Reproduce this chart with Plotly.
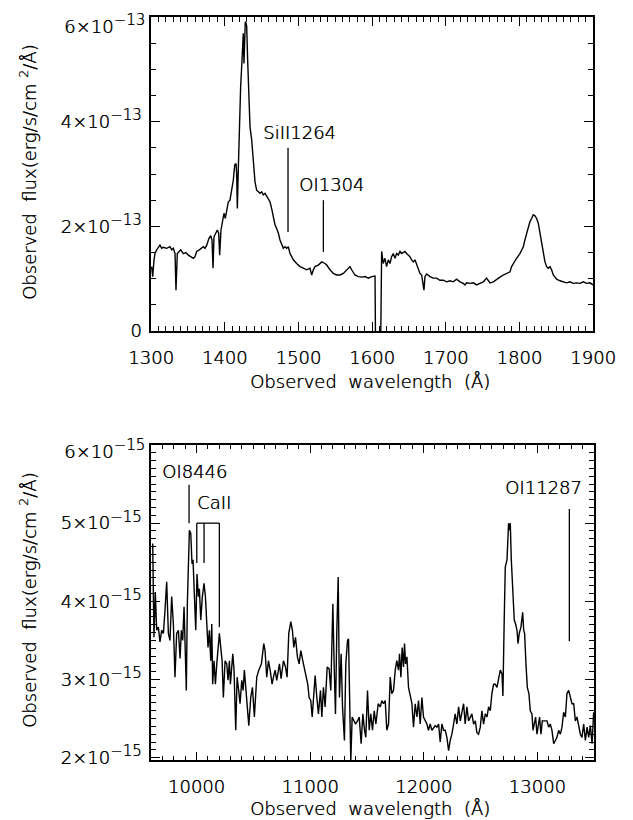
import plotly.graph_objects as go

# ---------------- data ----------------
# Top panel: UV spectrum, flux in units of 1e-13 erg/s/cm^2/A
top_wave = [
    1300.9, 1302.3, 1304.1, 1305.4, 1307.7, 1310.0, 1312.2, 1314.5, 1316.7, 1321.3,
    1325.8, 1328.1, 1330.3, 1332.6, 1333.9, 1335.7, 1338.5, 1340.3, 1343.9, 1347.5,
    1350.7, 1353.8, 1357.5, 1359.7, 1362.0, 1365.6, 1368.8, 1371.0, 1373.3, 1375.6,
    1378.7, 1381.0, 1382.8, 1384.2, 1385.5, 1388.2, 1390.0, 1391.9, 1393.2, 1395.0,
    1397.3, 1399.1, 1400.9, 1402.7, 1405.0, 1407.2, 1409.5, 1411.8, 1413.6, 1415.4,
    1416.3, 1417.2, 1418.6, 1419.9, 1421.7, 1423.1, 1424.4, 1425.3, 1426.2, 1427.1,
    1428.0, 1429.0, 1429.9, 1431.2, 1433.0, 1434.4, 1436.7, 1438.9, 1441.2, 1443.4,
    1445.7, 1448.0, 1450.2, 1452.5, 1454.8, 1457.0, 1459.3, 1461.5, 1463.8, 1466.1,
    1468.3, 1470.6, 1472.9, 1475.1, 1477.4, 1479.6, 1481.9, 1484.2, 1486.4, 1488.7,
    1491.0, 1493.2, 1497.7, 1502.3, 1506.8, 1511.3, 1515.8, 1518.1, 1520.4, 1522.6,
    1527.1, 1531.7, 1536.2, 1538.5, 1543.0, 1547.5, 1552.0, 1556.6, 1561.1, 1565.6,
    1570.1, 1572.4, 1576.9, 1581.4, 1586.0, 1590.5, 1595.0, 1599.5, 1604.1, 1605.0,
    1611.5, 1613.1, 1615.3, 1617.6, 1619.8, 1622.1, 1624.4, 1626.6, 1628.9, 1631.2,
    1633.4, 1635.7, 1638.0, 1640.2, 1642.5, 1644.7, 1647.0, 1649.3, 1651.5, 1653.8,
    1656.1, 1658.3, 1660.6, 1662.8, 1665.1, 1667.4, 1668.7, 1670.5, 1671.9, 1674.2,
    1678.7, 1683.2, 1687.7, 1692.2, 1696.8, 1701.3, 1705.8, 1710.3, 1714.9, 1719.4,
    1723.9, 1726.2, 1728.5, 1733.0, 1737.5, 1742.0, 1746.5, 1751.1, 1755.6, 1757.9,
    1760.1, 1764.7, 1769.2, 1773.7, 1778.2, 1782.7, 1787.3, 1789.5, 1791.8, 1796.3,
    1800.8, 1805.4, 1807.6, 1809.9, 1812.2, 1814.4, 1816.7, 1818.9, 1821.2, 1823.5,
    1825.7, 1828.0, 1830.3, 1832.5, 1834.8, 1837.1, 1839.3, 1841.6, 1843.8, 1846.1,
    1848.4, 1850.6, 1855.1, 1859.7, 1864.2, 1868.7, 1873.2, 1877.8, 1882.3, 1886.8,
    1891.3, 1895.9, 1900.0,
]
top_flux = [
    1.23, 1.04, 1.36, 1.48, 1.55, 1.61, 1.64, 1.58, 1.60, 1.58,
    1.61, 1.55, 1.58, 1.48, 0.78, 1.48, 1.52, 1.55, 1.48, 1.50,
    1.45, 1.42, 1.39, 1.42, 1.52, 1.55, 1.58, 1.61, 1.58, 1.64,
    1.77, 1.82, 1.74, 1.20, 1.80, 1.87, 1.93, 1.87, 1.45, 1.93,
    2.12, 2.25, 2.15, 2.31, 2.47, 2.50, 2.69, 2.89, 3.17, 3.20,
    3.01, 2.34, 3.14, 4.10, 4.67, 5.05, 5.37, 5.69, 5.11, 5.69,
    5.91, 5.88, 5.82, 5.18, 4.54, 3.90, 3.65, 3.27, 2.85, 2.69,
    2.66, 2.63, 2.66, 2.60, 2.63, 2.57, 2.50, 2.47, 2.34, 2.18,
    2.03, 1.96, 1.87, 1.74, 1.64, 1.58, 1.61, 1.58, 1.61, 1.48,
    1.42, 1.36, 1.29, 1.23, 1.20, 1.17, 1.20, 1.07, 1.17, 1.23,
    1.26, 1.32, 1.29, 1.26, 1.17, 1.10, 1.07, 1.07, 1.10, 1.17,
    1.23, 1.17, 1.07, 1.04, 1.03, 1.04, 1.01, 1.04, 1.05, -0.60,
    -0.60, 1.52, 1.29, 1.39, 1.23, 1.36, 1.29, 1.42, 1.48, 1.39,
    1.48, 1.45, 1.52, 1.48, 1.50, 1.52, 1.48, 1.45, 1.42, 1.36,
    1.32, 1.36, 1.26, 1.20, 1.10, 1.07, 0.97, 0.78, 1.04, 1.09,
    1.04, 1.01, 1.01, 0.97, 0.97, 0.94, 0.96, 0.94, 0.99, 0.94,
    0.91, 0.88, 0.92, 0.91, 0.92, 0.88, 0.91, 0.94, 1.01, 0.97,
    0.92, 0.94, 0.99, 1.03, 1.07, 1.10, 1.13, 1.23, 1.29, 1.39,
    1.48, 1.61, 1.74, 1.87, 1.99, 2.09, 2.15, 2.22, 2.20, 2.15,
    2.06, 1.87, 1.68, 1.48, 1.32, 1.23, 1.20, 1.23, 1.17, 1.07,
    1.03, 0.99, 0.96, 0.94, 0.92, 0.94, 0.91, 0.92, 0.91, 0.94,
    0.91, 0.92, 0.88,
]

# Bottom panel: near-IR spectrum, flux in units of 1e-15 erg/s/cm^2/A
bot_wave = [
    9615, 9626, 9638, 9650, 9665, 9679, 9694, 9709, 9723, 9738,
    9753, 9767, 9782, 9797, 9811, 9826, 9841, 9856, 9867, 9879,
    9891, 9903, 9911, 9920, 9938, 9950, 9961, 9970, 9979, 9994,
    10005, 10017, 10026, 10038, 10052, 10067, 10079, 10090, 10102, 10114,
    10126, 10135, 10143, 10155, 10167, 10179, 10202, 10214, 10226, 10237,
    10252, 10267, 10278, 10290, 10299, 10320, 10331, 10346, 10358, 10372,
    10384, 10399, 10411, 10422, 10443, 10461, 10478, 10493, 10510, 10531,
    10549, 10572, 10593, 10604, 10619, 10634, 10649, 10666, 10678, 10693,
    10707, 10731, 10745, 10766, 10784, 10798, 10813, 10831, 10845, 10857,
    10872, 10889, 10904, 10919, 10936, 10963, 10980, 10992, 11007, 11019,
    11033, 11045, 11060, 11074, 11092, 11104, 11118, 11133, 11151, 11168,
    11183, 11201, 11212, 11224, 11236, 11248, 11259, 11274, 11286, 11298,
    11303, 11315, 11330, 11339, 11348, 11359, 11371, 11386, 11400, 11418,
    11433, 11450, 11465, 11480, 11491, 11506, 11521, 11535, 11550, 11565,
    11580, 11600, 11618, 11632, 11647, 11662, 11676, 11691, 11706, 11720,
    11735, 11750, 11764, 11779, 11788, 11800, 11811, 11823, 11832, 11841,
    11853, 11867, 11882, 11897, 11911, 11926, 11941, 11955, 11970, 11985,
    11999, 12014, 12029, 12043, 12058, 12073, 12088, 12102, 12117, 12132,
    12146, 12161, 12176, 12190, 12205, 12220, 12234, 12249, 12264, 12278,
    12293, 12308, 12323, 12337, 12352, 12366, 12381, 12396, 12411, 12425,
    12440, 12455, 12469, 12484, 12499, 12513, 12528, 12543, 12558, 12572,
    12587, 12601, 12616, 12631, 12646, 12660, 12675, 12690, 12698, 12710,
    12719, 12734, 12740, 12748, 12757, 12763, 12772, 12786, 12798, 12810,
    12822, 12831, 12842, 12857, 12872, 12881, 12889, 12901, 12913, 12927,
    12939, 12954, 12963, 12974, 12986, 12998, 13010, 13021, 13033, 13045,
    13057, 13071, 13086, 13101, 13115, 13130, 13145, 13160, 13174, 13189,
    13204, 13218, 13233, 13248, 13262, 13277, 13292, 13306, 13321, 13336,
    13350, 13365, 13380, 13394, 13409, 13424, 13439, 13453, 13468, 13483,
    13497,
]
bot_flux = [
    4.74, 3.54, 4.12, 3.63, 3.67, 3.48, 3.63, 3.59, 3.88, 4.25,
    3.59, 3.50, 4.06, 3.71, 3.03, 3.59, 3.63, 3.27, 3.63, 3.50,
    3.93, 3.41, 2.86, 3.97, 4.91, 4.87, 4.48, 4.53, 4.18, 3.63,
    4.35, 4.06, 4.16, 3.76, 4.06, 4.23, 4.06, 3.71, 3.41, 3.63,
    3.24, 3.71, 2.94, 3.24, 2.94, 3.20, 3.59, 3.41, 3.24, 2.77,
    3.24, 3.20, 2.99, 3.24, 2.94, 3.33, 3.12, 2.35, 3.03, 2.86,
    2.69, 2.99, 2.86, 3.12, 2.73, 2.41, 2.77, 2.90, 2.52, 3.03,
    3.12, 3.20, 3.46, 3.37, 3.03, 3.24, 3.12, 2.94, 3.03, 3.12,
    2.99, 3.20, 3.01, 3.24, 3.16, 3.03, 3.59, 3.74, 3.63, 3.41,
    3.54, 3.29, 3.20, 3.37, 3.24, 3.03, 2.94, 2.77, 2.73, 2.52,
    2.82, 3.05, 2.77, 2.56, 2.86, 2.52, 2.90, 2.65, 3.16, 3.14,
    2.86, 3.97, 3.20, 2.56, 3.63, 4.31, 2.77, 3.33, 2.65, 2.30,
    2.22, 3.20, 3.50, 3.52, 2.47, 1.96, 2.52, 2.47, 2.43, 2.47,
    2.52, 2.18, 2.56, 2.35, 2.26, 2.86, 2.35, 2.56, 2.35, 2.60,
    2.43, 2.69, 2.65, 2.73, 2.69, 2.73, 2.35, 2.43, 3.03, 2.82,
    2.86, 3.12, 3.24, 3.12, 3.33, 3.03, 3.41, 3.16, 3.46, 3.20,
    3.29, 2.90, 2.77, 2.69, 2.39, 2.69, 2.52, 2.73, 2.43, 2.77,
    2.52, 2.47, 2.43, 2.35, 2.43, 2.35, 2.39, 2.41, 2.39, 2.43,
    2.20, 2.43, 2.35, 2.35, 2.26, 2.09, 2.22, 2.30, 2.43, 2.56,
    2.43, 2.65, 2.47, 2.56, 2.69, 2.43, 2.65, 2.47, 2.52, 2.56,
    2.43, 2.47, 2.32, 2.30, 2.39, 2.60, 2.43, 2.56, 2.52, 2.65,
    2.60, 2.82, 2.94, 2.94, 2.90, 3.03, 3.12, 3.07, 2.79, 3.80,
    4.44, 4.53, 4.91, 5.00, 4.91, 5.00, 4.53, 4.14, 3.76, 3.71,
    3.63, 3.46, 3.59, 3.67, 3.86, 3.63, 3.59, 3.20, 2.90, 2.82,
    2.60, 2.56, 2.35, 2.43, 2.52, 2.30, 2.43, 2.52, 2.30, 2.47,
    2.47, 2.47, 2.47, 2.39, 2.43, 2.35, 2.18, 2.22, 2.26, 2.35,
    2.30, 2.39, 2.58, 2.52, 2.82, 2.86, 2.77, 2.69, 2.69, 2.47,
    2.52, 2.39, 2.30, 2.26, 2.43, 2.22, 2.39, 2.26, 2.41, 2.18,
    2.58,
]

# Axis ticks and labels (the label of the topmost tick is placed separately)
EXP = '<sup><span style="font-size:15px">−{}</span></sup>'
top_xticks = [1300, 1400, 1500, 1600, 1700, 1800, 1900]
top_yticks = [0, 2, 4, 6]
top_yticktext = ["0"] + [f"{m}×10" + EXP.format(13) for m in (2, 4, 6)]
bot_xticks = [10000, 11000, 12000, 13000]
bot_yticks = [2, 3, 4, 5, 6]
bot_yticktext = [f"{m}×10" + EXP.format(15) for m in (2, 3, 4, 5, 6)]

# Line identifications (wavelength of marker, marker extent, label position)
top_ids = ["SiII1264", "OI1304"]
top_id_wave = [1486, 1534]
top_id_ylo = [1.89, 1.51]
top_id_yhi = [3.50, 2.50]
top_id_labx = [1501, 1545]
top_id_laby = [3.80, 2.79]

bot_ids = ["OI8446", "OI11287"]
bot_id_wave = [9935, 13283]
bot_id_ylo = [5.00, 3.49]
bot_id_yhi = [5.49, 5.18]
bot_id_labx = [9979, 13054]
bot_id_laby = [5.66, 5.46]

caii_label = "CaII"
caii_label_pos = [10151, 5.27]
caii_waves = [10003, 10067, 10202]
caii_top = 5.00
caii_ylo = [4.49, 4.49, 3.67]

# ---------------- figure ----------------
FONT = "DejaVu Sans"
FS = 18
OFF = 8                       # page body margin
FW, FH = 633 - OFF, 820 - OFF


def fx(px):
    return (px - OFF) / FW


def fy(py):
    return 1 - (py - OFF) / FH


fig = go.Figure()
fig.add_trace(go.Scatter(x=top_wave, y=top_flux, mode="lines",
                         line=dict(color="black", width=1.4), xaxis="x", yaxis="y",
                         showlegend=False, hoverinfo="skip"))
fig.add_trace(go.Scatter(x=bot_wave, y=bot_flux, mode="lines",
                         line=dict(color="black", width=1.4), xaxis="x2", yaxis="y2",
                         showlegend=False, hoverinfo="skip"))

SHADOW = "0.45px 0px 0px black"
tickfont = dict(family=FONT, size=FS, color="black", weight=300, shadow=SHADOW)
txtfont = dict(family=FONT, size=FS, color="black", weight=300, shadow=SHADOW)


def axis_common(minor_dtick, minor_tick0, major_len, minor_len):
    return dict(
        showline=True, linecolor="black", linewidth=1.5, mirror="allticks",
        ticks="inside", ticklen=major_len, tickwidth=1.2, tickcolor="black",
        showgrid=False, zeroline=False, automargin=False, ticklabeloverflow="allow",
        tickfont=tickfont,
        minor=dict(ticks="inside", ticklen=minor_len, tickwidth=1, tickcolor="black",
                   tickmode="linear", tick0=minor_tick0, dtick=minor_dtick, showgrid=False),
    )


fig.update_layout(
    width=FW, height=FH, margin=dict(l=0, r=0, t=0, b=0, pad=0, autoexpand=False),
    paper_bgcolor="white", plot_bgcolor="white", showlegend=False,
    font=dict(family=FONT, size=FS, color="black"),
    xaxis=dict(domain=[fx(151), fx(593)], anchor="y", range=[1300, 1900], tickmode="array",
               tickvals=top_xticks, ticktext=[str(v) for v in top_xticks],
               ticklabelstandoff=10, **axis_common(10, 1300, 9, 5)),
    yaxis=dict(domain=[fy(331), fy(17)], anchor="x", range=[0, 6], tickmode="array",
               tickvals=top_yticks, ticktext=top_yticktext[:-1] + [""],
               ticklabelstandoff=4, **axis_common(0.5, 0, 9, 5)),
    xaxis2=dict(domain=[fx(151), fx(594)], anchor="y2", range=[9600, 13500], tickmode="array",
                tickvals=bot_xticks, ticktext=[str(v) for v in bot_xticks],
                ticklabelstandoff=10, **axis_common(100, 9600, 8, 4)),
    yaxis2=dict(domain=[fy(760), fy(445)], anchor="x2", range=[1.97, 6.0], tickmode="array",
                tickvals=bot_yticks, ticktext=bot_yticktext[:-1] + [""],
                ticklabelstandoff=4, **axis_common(0.1, 2, 9, 5)),
)

shapes = []
annotations = []

# labels of the top ticks, nudged down inside the figure as in the reference
annotations.append(dict(text=top_yticktext[-1], xref="paper", yref="y", x=fx(147),
                        y=top_yticks[-1], yshift=-7, showarrow=False, font=tickfont,
                        xanchor="right", yanchor="middle"))
annotations.append(dict(text=bot_yticktext[-1], xref="paper", yref="y2", x=fx(147),
                        y=bot_yticks[-1], yshift=-4, showarrow=False, font=tickfont,
                        xanchor="right", yanchor="middle"))

for name, w, ylo, yhi, lx, ly in zip(top_ids, top_id_wave, top_id_ylo, top_id_yhi,
                                     top_id_labx, top_id_laby):
    shapes.append(dict(type="line", xref="x", yref="y", x0=w, x1=w, y0=ylo, y1=yhi,
                       line=dict(color="black", width=1.3)))
    annotations.append(dict(text=name, xref="x", yref="y", x=lx, y=ly, showarrow=False,
                            font=txtfont, xanchor="center", yanchor="middle"))
for name, w, ylo, yhi, lx, ly in zip(bot_ids, bot_id_wave, bot_id_ylo, bot_id_yhi,
                                     bot_id_labx, bot_id_laby):
    shapes.append(dict(type="line", xref="x2", yref="y2", x0=w, x1=w, y0=ylo, y1=yhi,
                       line=dict(color="black", width=1.3)))
    annotations.append(dict(text=name, xref="x2", yref="y2", x=lx, y=ly, showarrow=False,
                            font=txtfont, xanchor="center", yanchor="middle"))
# CaII bracket
shapes.append(dict(type="line", xref="x2", yref="y2", x0=caii_waves[0], x1=caii_waves[-1],
                   y0=caii_top, y1=caii_top, line=dict(color="black", width=1.3)))
for w, ylo in zip(caii_waves, caii_ylo):
    shapes.append(dict(type="line", xref="x2", yref="y2", x0=w, x1=w, y0=ylo, y1=caii_top,
                       line=dict(color="black", width=1.3)))
annotations.append(dict(text=caii_label, xref="x2", yref="y2", x=caii_label_pos[0],
                        y=caii_label_pos[1], showarrow=False, font=txtfont,
                        xanchor="center", yanchor="middle"))

# Axis titles
xtitle = "Observed  wavelength  (Å)"
ytitle = "Observed  flux(erg/s/cm <sup>2</sup>/Å)"
annotations.append(dict(text=xtitle, xref="paper", yref="paper", x=fx(370), y=fy(381),
                        showarrow=False, font=txtfont, xanchor="center", yanchor="middle"))
annotations.append(dict(text=xtitle, xref="paper", yref="paper", x=fx(370), y=fy(808),
                        showarrow=False, font=txtfont, xanchor="center", yanchor="middle"))
annotations.append(dict(text=ytitle, xref="paper", yref="paper", x=fx(28), y=fy(172),
                        showarrow=False, font=txtfont, textangle=-90,
                        xanchor="center", yanchor="middle"))
annotations.append(dict(text=ytitle, xref="paper", yref="paper", x=fx(28), y=fy(600),
                        showarrow=False, font=txtfont, textangle=-90,
                        xanchor="center", yanchor="middle"))

fig.update_layout(shapes=shapes, annotations=annotations)
fig.write_html("out.html")
